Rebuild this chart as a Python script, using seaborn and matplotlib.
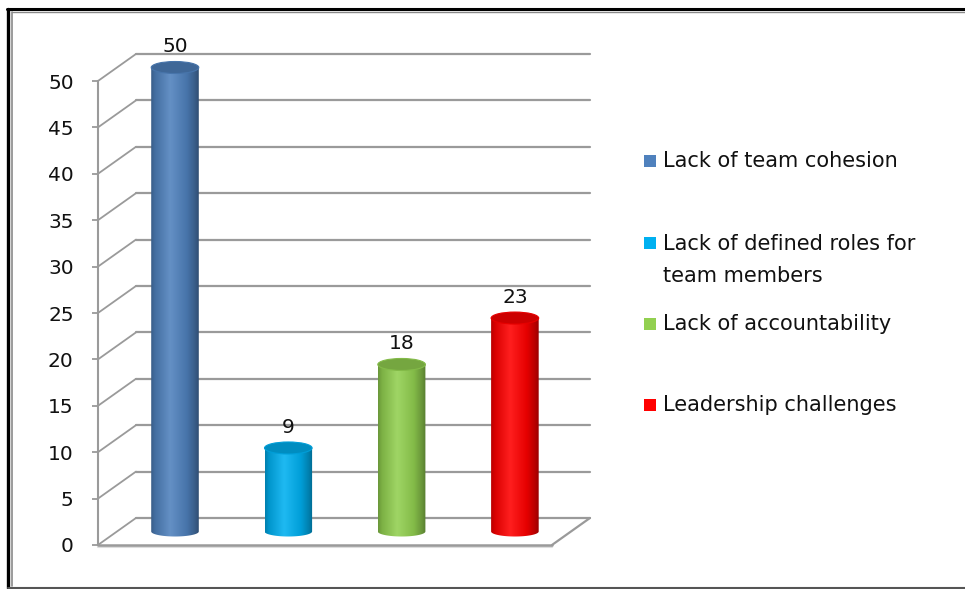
import matplotlib
matplotlib.use('Agg')
import matplotlib.pyplot as plt
import seaborn as sns
import numpy as np
import pandas as pd
from matplotlib.path import Path
from matplotlib.patches import PathPatch, Ellipse, Rectangle
from matplotlib.lines import Line2D
import matplotlib.colors as mcolors

# data
categories = ['Lack of team cohesion', 'Lack of defined roles for team members',
              'Lack of accountability', 'Leadership challenges']
legend_labels = ['Lack of team cohesion', 'Lack of defined roles for\nteam members',
                 'Lack of accountability', 'Leadership challenges']
values = [50, 9, 18, 23]
colors = ['#4F81BD', '#00B0F0', '#92D050', '#FF0000']
yticks = list(range(0, 55, 5))

W, H = 965, 589
# pixel mapping of the plot (x: category units, y: value units)
X0, SX = 175.0, 113.3     # px of category 0, px per category
Y0, SY = 545.0, 9.28      # px of value 0 (front), px per value unit
DX, DY = 38 / SX, 27 / SY  # depth offset in data units
XF0, XF1 = -0.68, 3.327    # front plane left/right

sns.set_style('white')
plt.rcParams['font.family'] = ['DejaVu Sans']

fig = plt.figure(figsize=(W / 100, H / 100), dpi=100)
xl, xr = -1.1, 4.1
yb, yt = -3.0, 55.0
pl, pr = X0 + SX * xl, X0 + SX * xr
pb, ptop = Y0 - SY * yb, Y0 - SY * yt
ax = fig.add_axes([pl / W, 1 - pb / H, (pr - pl) / W, (pb - ptop) / H])

df = pd.DataFrame({'cat': categories, 'val': values})
sns.barplot(data=df, x='cat', y='val', hue='cat', palette=colors, width=0.42,
            bottom=DY / 2, errorbar=None, legend=False, ax=ax, zorder=3)

grid_c = '#9a9a9a'
# floor
ax.fill([XF0, XF1, XF1 + DX, XF0 + DX], [0, 0, DY, DY], color='white', zorder=0.5)
ax.plot([XF0, XF1], [0, 0], color=grid_c, lw=1.8, zorder=2)
ax.plot([XF0, XF1], [-0.2, -0.2], color='#dddddd', lw=1.5, zorder=1.9)
ax.plot([XF1, XF1 + DX], [0, DY], color=grid_c, lw=1.6, zorder=2)
# walls
for v in yticks:
    ax.plot([XF0 + DX, XF1 + DX], [v + DY, v + DY], color=grid_c, lw=1.6, zorder=1)
    ax.plot([XF0, XF0 + DX], [v, v + DY], color=grid_c, lw=1.3, zorder=1)


def shade(c, f):
    c = np.array(mcolors.to_rgb(c))
    if f >= 1:
        return c + (1 - c) * (f - 1)
    return c * f


eh_top = 12 / SY
eh_bot = 10 / SY
for bar, c, v in zip(ax.patches, colors, values):
    x0 = bar.get_x()
    w = bar.get_width()
    y0 = bar.get_y()
    y1 = y0 + bar.get_height()
    xc = x0 + w / 2
    bar.set_visible(False)
    # body outline with rounded bottom
    t = np.linspace(0, np.pi, 40)
    bx = xc - (w / 2) * np.cos(t)
    by = y0 - (eh_bot / 2) * np.sin(t)
    vx = np.concatenate([[x0], bx, [x0 + w, x0]])
    vy = np.concatenate([[y1], by, [y1, y1]])
    verts = np.column_stack([vx, vy])
    codes = [Path.MOVETO] + [Path.LINETO] * (len(verts) - 2) + [Path.CLOSEPOLY]
    body = PathPatch(Path(verts, codes), transform=ax.transData, fc='none', ec='none')
    ax.add_patch(body)
    pos = np.array([0.0, 0.08, 0.4, 0.75, 0.92, 1.0])
    fac = [0.72, 0.85, 1.12, 0.9, 0.72, 0.6]
    xs = np.linspace(0, 1, 120)
    grad = np.array([[np.interp(s, pos, [shade(c, f)[k] for f in fac]) for k in range(3)] for s in xs])
    grad = np.clip(grad, 0, 1)[None, :, :]
    im = ax.imshow(grad, extent=(x0, x0 + w, y0 - eh_bot, y1), aspect='auto',
                   interpolation='bicubic', zorder=3)
    im.set_clip_path(body)
    top = Ellipse((xc, y1), w, eh_top, fc=shade(c, 0.8), ec=shade(c, 0.9), lw=0.8, zorder=4)
    ax.add_patch(top)
    ax.annotate(str(v), (xc, y1), xytext=(0, 15), textcoords='offset points',
                ha='center', va='center', fontsize=14.5, color='#111111', zorder=5)

ax.set_xlim(xl, xr)
ax.set_ylim(yb, yt)
ax.set_xticks([])
ax.set_xlabel('')
ax.set_ylabel('')
for s in ['top', 'right', 'bottom']:
    ax.spines[s].set_visible(False)
ax.spines['left'].set_position(('data', XF0))
ax.spines['left'].set_bounds(0, 50)
ax.spines['left'].set_color(grid_c)
ax.spines['left'].set_linewidth(1.5)
ax.set_yticks(yticks)
ax.tick_params(axis='y', direction='out', length=4.5, width=1.3, color=grid_c,
               labelsize=14.5, labelcolor='#111111', pad=13, left=True)
ax.patch.set_alpha(0)

# legend
leg_y = [161, 260, 324, 405]
for lab, c, py in zip(legend_labels, colors, leg_y):
    sq_y = py if '\n' not in lab else 243
    fig.add_artist(Rectangle((644 / W, 1 - (sq_y + 6) / H), 12 / W, 12 / H,
                             transform=fig.transFigure, fc=c, ec='none'))
    fig.text(663 / W, 1 - py / H, lab, ha='left', va='center', fontsize=15,
             color='#111111', linespacing=1.75)

# outer frame
fig.add_artist(Line2D([8 / W, 8 / W], [1 - 9 / H, 1 - 588 / H], transform=fig.transFigure, color='black', lw=2.4))
fig.add_artist(Line2D([12 / W, 12 / W], [1 - 12 / H, 1 - 586 / H], transform=fig.transFigure, color='#8a8a8a', lw=1.2))
fig.add_artist(Line2D([7 / W, 1], [1 - 8.5 / H, 1 - 8.5 / H], transform=fig.transFigure, color='black', lw=2.2))
fig.add_artist(Line2D([12 / W, 1], [1 - 11.5 / H, 1 - 11.5 / H], transform=fig.transFigure, color='#8a8a8a', lw=1.0))
fig.add_artist(Line2D([8 / W, 1], [1 - 587.5 / H, 1 - 587.5 / H], transform=fig.transFigure, color='#555555', lw=1.5))

fig.savefig('out.png', dpi=100)
